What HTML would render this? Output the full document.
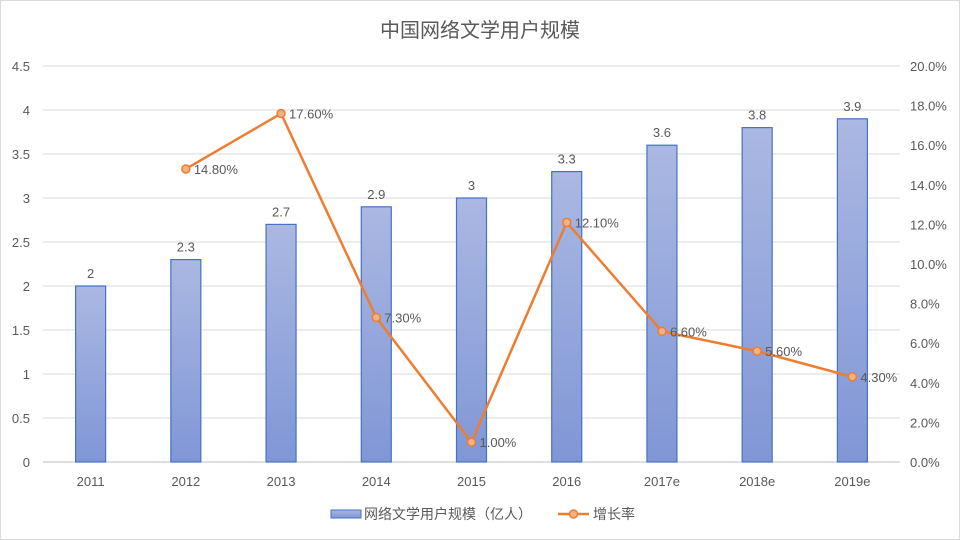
<!DOCTYPE html>
<html><head><meta charset="utf-8"><style>
body{margin:0;background:#fff;}
svg{display:block;font-family:"Liberation Sans","Noto Sans CJK SC",sans-serif;}
</style></head><body>
<svg id="chart" width="960" height="540">
<rect x="0.5" y="0.5" width="959" height="539" fill="#fff" stroke="#d9d9d9"/>
<defs><linearGradient id="bg" x1="0" y1="0" x2="0" y2="1"><stop offset="0" stop-color="#aab8e2"/><stop offset="1" stop-color="#8096d6"/></linearGradient></defs>
<text x="480" y="37" text-anchor="middle" font-size="20" fill="#595959">中国网络文学用户规模</text>
<g id="grid"></g><g id="bars"></g><g id="line"></g><g id="labels"></g>
<g>
<rect x="331" y="510" width="30" height="8" fill="url(#bg)" stroke="#4472c4"/>
<text x="364" y="519" font-size="14" fill="#595959">网络文学用户规模（亿人）</text>
<line x1="558" y1="514" x2="589" y2="514" stroke="#ed7d31" stroke-width="2.5"/>
<circle cx="573.5" cy="514" r="4" fill="#f4b183" stroke="#ed7d31" stroke-width="1.5"/>
<text x="593" y="519" font-size="14" fill="#595959">增长率</text>
</g>
</svg>
<script>
const categories=["2011","2012","2013","2014","2015","2016","2017e","2018e","2019e"];
const users=[2,2.3,2.7,2.9,3,3.3,3.6,3.8,3.9];
const growth=[null,14.8,17.6,7.3,1.0,12.1,6.6,5.6,4.3];
const leftTicks=[0,0.5,1,1.5,2,2.5,3,3.5,4,4.5];
const rightTicks=[0,2,4,6,8,10,12,14,16,18,20];
const NS="http://www.w3.org/2000/svg";
const X0=43,X1=900,Y0=462,Y1=66;
const band=(X1-X0)/categories.length;
const xc=i=>X0+band*(i+0.5);
const yl=v=>Y0-(v/4.5)*(Y0-Y1);
const yr=v=>Y0-(v/20)*(Y0-Y1);
function mk(tag,attrs,parent,txt){const e=document.createElementNS(NS,tag);for(const k in attrs)e.setAttribute(k,attrs[k]);if(txt!=null)e.textContent=txt;document.getElementById(parent).appendChild(e);return e;}
leftTicks.forEach(t=>{
 const g=mk('line',{x1:X0,x2:X1,y1:yl(t),y2:yl(t),stroke:t===0?'#bfbfbf':'#d9d9d9','stroke-width':1},'grid');
 
 
 const l=mk('text',{x:30,y:yl(t)+5,'text-anchor':'end','font-size':13,fill:'#595959'},'grid',String(t));
 
 
});
rightTicks.forEach(t=>{
 const l=mk('text',{x:910,y:yr(t)+5,'font-size':13,fill:'#595959'},'grid',t.toFixed(1)+'%');
 
 
});
categories.forEach((c,i)=>{
 const l=mk('text',{x:xc(i),y:486,'text-anchor':'middle','font-size':13,fill:'#595959'},'grid',c);
 
 
 const b=mk('rect',{x:xc(i)-15,y:yl(users[i]),width:30,height:Y0-yl(users[i]),fill:'url(#bg)',stroke:'#4472c4','stroke-width':1.2},'bars');
 
 
 const v=mk('text',{x:xc(i),y:yl(users[i])-8,'text-anchor':'middle','font-size':13,fill:'#595959'},'labels',String(users[i]));
 
 
});
let pts=[];growth.forEach((g,i)=>{if(g!=null)pts.push([xc(i),yr(g)]);});
const pl=mk('polyline',{points:pts.map(p=>p.join(',')).join(' '),fill:'none',stroke:'#ed7d31','stroke-width':2.5},'line');


growth.forEach((g,i)=>{if(g==null)return;
 const c=mk('circle',{cx:xc(i),cy:yr(g),r:4,fill:'#f4b183',stroke:'#ed7d31','stroke-width':1.5},'line');
 
 
 const t=mk('text',{x:xc(i)+8,y:yr(g)+5,'font-size':13,fill:'#595959'},'labels',g.toFixed(2)+'%');
 
 
});
</script>
</body></html>
